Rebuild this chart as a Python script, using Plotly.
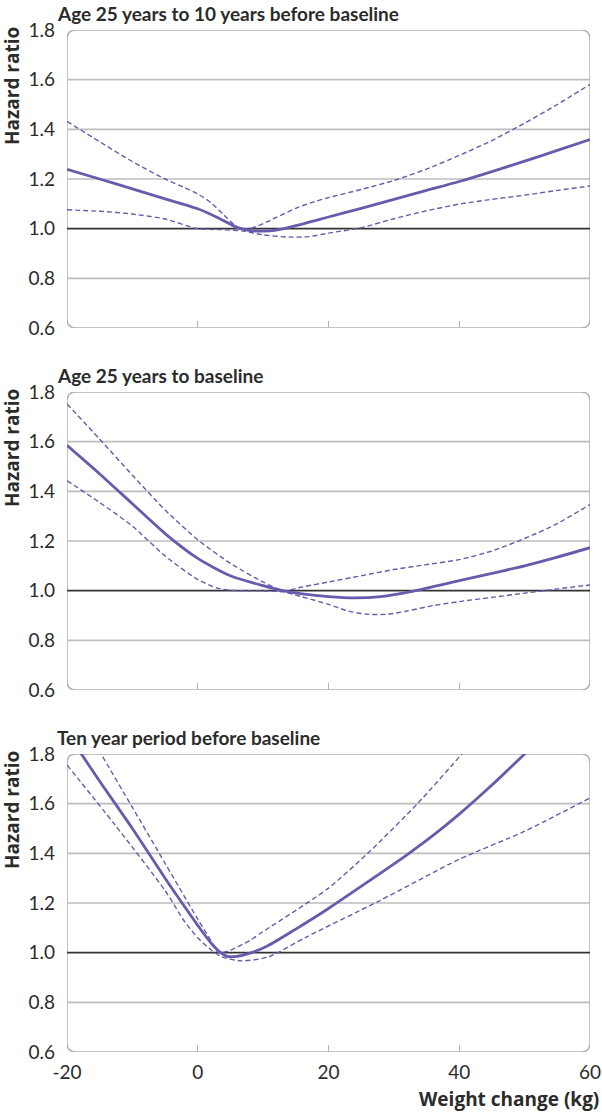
import plotly.graph_objects as go

# ── Data ──────────────────────────────────────────────────────────────────────
PANEL_TITLES = [
    "Age 25 years to 10 years before baseline",
    "Age 25 years to baseline",
    "Ten year period before baseline",
]

# Panel 1: age 25 years to 10 years before baseline
p1_x = [-20, -15, -10, -5, 0, 3, 6, 8, 10, 12, 15, 20, 25, 30, 35, 40, 45, 50, 55, 60]
p1_hr = [1.239, 1.20, 1.16, 1.12, 1.08, 1.045, 1.005, 0.992, 0.99, 0.994, 1.012, 1.047, 1.082,
         1.118, 1.154, 1.19, 1.23, 1.272, 1.315, 1.359]
p1_up_x = [-20, -15, -10, -5, -2, 0, 2, 4, 6.5, 8, 10, 12, 15, 18, 20, 25, 30, 35, 40, 45, 50, 55, 60]
p1_up = [1.432, 1.35, 1.27, 1.2, 1.165, 1.14, 1.105, 1.055, 0.998, 1.0, 1.02, 1.045, 1.082,
         1.11, 1.125, 1.158, 1.194, 1.24, 1.295, 1.355, 1.425, 1.5, 1.581]
p1_lo_x = [-20, -15, -10, -5, 0, 3.5, 7, 10, 14, 17, 20, 25, 30, 35, 40, 45, 50, 55, 60]
p1_lo = [1.076, 1.07, 1.059, 1.039, 1.0, 0.996, 0.99, 0.975, 0.966, 0.968, 0.982, 1.004, 1.04,
         1.072, 1.099, 1.118, 1.135, 1.154, 1.172]

# Panel 2: age 25 years to baseline
p2_x = [-20, -15, -10, -5, 0, 5, 10, 13, 16, 20, 24, 28, 33, 40, 45, 50, 55, 60]
p2_hr = [1.585, 1.47, 1.35, 1.23, 1.13, 1.06, 1.02, 1.0, 0.987, 0.976, 0.971, 0.976, 0.998,
         1.04, 1.07, 1.1, 1.135, 1.173]
p2_up_x = [-20, -15, -10, -5, 0, 5, 10, 13, 16, 20, 25, 30, 35, 40, 45, 50, 55, 60]
p2_up = [1.752, 1.61, 1.465, 1.325, 1.205, 1.11, 1.035, 1.0, 1.015, 1.035, 1.06, 1.085, 1.105,
         1.125, 1.16, 1.21, 1.27, 1.347]
p2_lo_x = [-20, -15, -10, -5, 0, 3, 6, 10, 13, 16, 20, 23, 26, 29, 32, 36, 40, 45, 50, 55, 60]
p2_lo = [1.443, 1.355, 1.26, 1.14, 1.045, 1.01, 1.0, 0.999, 0.995, 0.975, 0.945, 0.918, 0.905,
         0.905, 0.918, 0.94, 0.956, 0.973, 0.99, 1.007, 1.023]

# Panel 3: ten year period before baseline
p3_x = [-20, -17.8, -15, -10, -5, -2, 0, 2, 3.5, 4.5, 6, 8, 10.8, 15, 20, 26, 32, 36, 40, 45, 50, 52]
p3_hr = [1.89, 1.8, 1.69, 1.50, 1.30, 1.185, 1.11, 1.04, 1.0, 0.985, 0.985, 0.998, 1.029, 1.095,
         1.178, 1.285, 1.394, 1.472, 1.558, 1.675, 1.8, 1.85]
p3_up_x = [-20, -15, -10, -5, 0, 2, 3.2, 5, 8, 10, 15, 20, 26, 33.6, 40.4, 43]
p3_up = [2.04, 1.81, 1.585, 1.36, 1.135, 1.05, 1.0, 1.01, 1.05, 1.085, 1.17, 1.26, 1.40, 1.60,
         1.80, 1.88]
p3_lo_x = [-20, -12.7, -5, -2, 0, 2, 3.7, 6.7, 10.8, 16.6, 27.8, 40, 50, 60]
p3_lo = [1.756, 1.516, 1.25, 1.125, 1.06, 1.012, 0.983, 0.967, 0.983, 1.063, 1.209, 1.376,
         1.489, 1.623]

X_TICKS = [-20, 0, 20, 40, 60]
X_LABELS = ["-20", "0", "20", "40", "60"]
X_MINOR = [0, 20, 40]
Y_TICKS = [0.6, 0.8, 1.0, 1.2, 1.4, 1.6, 1.8]
Y_LABELS = ["0.6", "0.8", "1.0", "1.2", "1.4", "1.6", "1.8"]

PANELS = [
    (p1_x, p1_hr, p1_up_x, p1_up, p1_lo_x, p1_lo),
    (p2_x, p2_hr, p2_up_x, p2_up, p2_lo_x, p2_lo),
    (p3_x, p3_hr, p3_up_x, p3_up, p3_lo_x, p3_lo),
]

# ── Style ─────────────────────────────────────────────────────────────────────
PURPLE = "#6a5aad"
GRID = "#bdbdbd"
BORDER = "#b3b3b3"
TEXT = "#2b2b2b"
FONT = "Lato"

W, H = 602, 1115
M = dict(l=67, r=12, t=30, b=63)
PLOT_W = W - M["l"] - M["r"]
PLOT_H = H - M["t"] - M["b"]
# panel (top, bottom) pixel rows
PANEL_PX = [(30, 328), (392, 690), (754, 1052)]
X_RANGE = [-20, 60]
Y_RANGE = [0.6, 1.8]

fig = go.Figure()
annotations = []
shapes = []

for i, (px, hr, ux, up, lx, lo) in enumerate(PANELS):
    n = "" if i == 0 else str(i + 1)
    xa, ya = "x" + n, "y" + n
    for xs, ys, w, dash in [(ux, up, 1.4, True), (lx, lo, 1.4, True), (px, hr, 2.8, False)]:
        fig.add_trace(go.Scatter(
            x=xs, y=ys, mode="lines", xaxis=xa, yaxis=ya,
            line=dict(color=PURPLE, width=w, dash="5px,3px" if dash else "solid",
                      shape="spline", smoothing=0.7),
            showlegend=False, hoverinfo="skip",
        ))

    top, bot = PANEL_PX[i]
    dom = [(H - M["b"] - bot) / PLOT_H, (H - M["b"] - top) / PLOT_H]
    last = i == 2
    fig.layout["xaxis" + n] = dict(
        domain=[0, 1], range=X_RANGE, anchor=ya, showgrid=False, zeroline=False,
        showline=False, ticks="", tickvals=X_TICKS, ticktext=X_LABELS, showticklabels=last,
        tickfont=dict(family=FONT, size=19, color=TEXT), ticklabelstandoff=7,
        automargin=False,
        minor=dict(tickvals=X_MINOR, ticks="inside", ticklen=7, tickcolor=BORDER, tickwidth=1.2),
    )
    if i > 0:
        fig.layout["xaxis" + n]["matches"] = "x"
    fig.layout["yaxis" + n] = dict(
        domain=dom, range=Y_RANGE, anchor=xa, showgrid=False, zeroline=False,
        showline=False, ticks="", tickvals=Y_TICKS, ticktext=Y_LABELS, automargin=False,
        tickfont=dict(family=FONT, size=19, color=TEXT), ticklabelstandoff=11,
    )

    # inner gridlines + reference line at 1.0
    for v in Y_TICKS[1:-1]:
        shapes.append(dict(
            type="line", xref=xa, yref=ya, x0=X_RANGE[0], x1=X_RANGE[1], y0=v, y1=v,
            line=dict(color="#333333" if v == 1.0 else GRID, width=1.6),
            layer="between",
        ))

    # rounded panel border
    rx = 9 * (X_RANGE[1] - X_RANGE[0]) / PLOT_W
    ry = 9 * (Y_RANGE[1] - Y_RANGE[0]) / (bot - top)
    x0, x1 = X_RANGE
    y0, y1 = Y_RANGE
    path = (f"M{x0 + rx},{y1} L{x1 - rx},{y1} Q{x1},{y1} {x1},{y1 - ry} "
            f"L{x1},{y0 + ry} Q{x1},{y0} {x1 - rx},{y0} L{x0 + rx},{y0} "
            f"Q{x0},{y0} {x0},{y0 + ry} L{x0},{y1 - ry} Q{x0},{y1} {x0 + rx},{y1} Z")
    shapes.append(dict(type="path", xref=xa, yref=ya, path=path,
                       line=dict(color=BORDER, width=1.6), layer="below"))

    annotations.append(dict(
        text=f"<b>{PANEL_TITLES[i]}</b>", xref="paper", yref=ya + " domain",
        x=-12 / PLOT_W, y=1, xanchor="left", yanchor="bottom", yshift=3,
        showarrow=False, font=dict(family=FONT, size=19, color=TEXT),
    ))
    annotations.append(dict(
        text="<b>Hazard ratio</b>", xref="paper", yref=ya + " domain",
        x=-55 / PLOT_W, y=1, xanchor="center", yanchor="top", yshift=5,
        textangle=-90, showarrow=False,
        font=dict(family="Open Sans", size=19, color=TEXT),
    ))

annotations.append(dict(
    text="<b>Weight change (kg)</b>", xref="paper", yref="paper",
    x=1 + 11 / PLOT_W, y=-47 / PLOT_H, xanchor="right", yanchor="middle",
    showarrow=False, font=dict(family="Open Sans", size=19, color=TEXT),
))

fig.update_layout(
    width=W, height=H, margin=M,
    paper_bgcolor="white", plot_bgcolor="white",
    shapes=shapes, annotations=annotations,
    font=dict(family=FONT, color=TEXT),
)

fig.write_html(
    "out.html",
    config={"displayModeBar": False},
    post_script="document.body.style.margin='0';document.body.style.overflow='hidden';",
)
